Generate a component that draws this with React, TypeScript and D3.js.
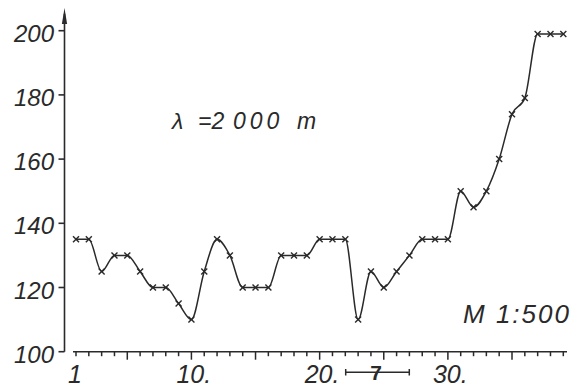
import React from "react";
import * as d3 from "d3";

const stations = [1,2,3,4,5,6,7,8,9,10,11,12,13,14,15,16,17,18,19,20,21,22,23,24,25,26,27,28,29,30,31,32,33,34,35,36,37,38,39];
const heights = [135,135,125,130,130,125,120,120,115,110,125,135,130,120,120,120,130,130,130,135,135,135,110,125,120,125,130,135,135,135,150,145,150,160,174,179,199,199,199];
const yTicks = [100,120,140,160,180,200];
const xLabels = [1,10,20,30];
const xMinorTicks = stations;
const scaleText = "M 1:500";

const W = 578, H = 388;
const INK = "#2a2a2a";
const FONT = "'Liberation Sans', Arial, sans-serif";

export default function App() {
  const x = d3.scaleLinear().domain([1, 39]).range([76, 563.3]);
  const y = d3.scaleLinear().domain([100, 200]).range([351.7, 30.7]);
  const data = stations.map((s, i) => ({ s, v: heights[i] }));
  const line = d3.line<{ s: number; v: number }>()
    .x(d => x(d.s)).y(d => y(d.v)).curve(d3.curveMonotoneX);
  const axisY = 64.5;
  const baseY = y(100);
  const tStyle = { fontFamily: FONT, fontStyle: "italic" as const, fontSize: 23, fill: INK };

  return (
    <svg width={W} height={H} style={{ position: "absolute", left: 0, top: 0, background: "#fff" }}>
      <rect width={W} height={H} fill="#fff" />
      {/* y axis */}
      <line x1={axisY} x2={axisY} y1={baseY} y2={14} stroke={INK} strokeWidth={1.6} />
      <path d={`M${axisY},8 L${axisY - 2.6},24 L${axisY + 2.6},24 Z`} fill={INK} />
      {yTicks.map(t => (
        <g key={t}>
          <line x1={axisY - 6} x2={axisY} y1={y(t)} y2={y(t)} stroke={INK} strokeWidth={1.6} />
          <text x={54} y={y(t) + 11} textAnchor="end" fontFamily={FONT} fontStyle="italic" fontSize={24} fill={INK}>{t}</text>
        </g>
      ))}
      {/* x axis */}
      <line x1={73} x2={567} y1={baseY} y2={baseY} stroke={INK} strokeWidth={1.6} />
      {xMinorTicks.map(t => (
        <line key={t} x1={x(t)} x2={x(t)} y1={baseY} y2={baseY + (t % 5 === 0 ? 8 : 4.5)} stroke={INK} strokeWidth={1.5} />
      ))}
      {xLabels.map(t => (
        <text key={t} x={t === 1 ? x(t) - 8 : x(t) - 15} y={383} fontFamily={FONT} fontStyle="italic" fontSize={25} fill={INK}>
          {t === 1 ? "1" : `${t}.`}
        </text>
      ))}
      {/* scale bar */}
      <g stroke={INK} strokeWidth={1.5}>
        <line x1={345.7} x2={409.3} y1={372.3} y2={372.3} />
        <line x1={345.7} x2={345.7} y1={369} y2={375.5} />
        <line x1={409.3} x2={409.3} y1={369} y2={375.5} />
      </g>
      <text x={376} y={380} textAnchor="middle" fontFamily={FONT} fontWeight="bold" fontSize={21} fill={INK}>7</text>
      {/* profile */}
      <path d={line(data) || ""} fill="none" stroke={INK} strokeWidth={1.5} />
      {data.map(d => (
        <g key={d.s} stroke={INK} strokeWidth={1.4}>
          <line x1={x(d.s) - 3} x2={x(d.s) + 3} y1={y(d.v) - 3} y2={y(d.v) + 3} />
          <line x1={x(d.s) - 3} x2={x(d.s) + 3} y1={y(d.v) + 3} y2={y(d.v) - 3} />
        </g>
      ))}
      {/* annotations */}
      <text y={129} {...tStyle}>
        <tspan x={172}>λ</tspan>
        <tspan x={198}>=2</tspan>
        <tspan x={233} letterSpacing={4}>000</tspan>
        <tspan x={297}>m</tspan>
      </text>
      <text x={463} y={323} fontFamily={FONT} fontStyle="italic" fontSize={26} fill={INK} textLength={106} lengthAdjust="spacing">{scaleText}</text>
    </svg>
  );
}
